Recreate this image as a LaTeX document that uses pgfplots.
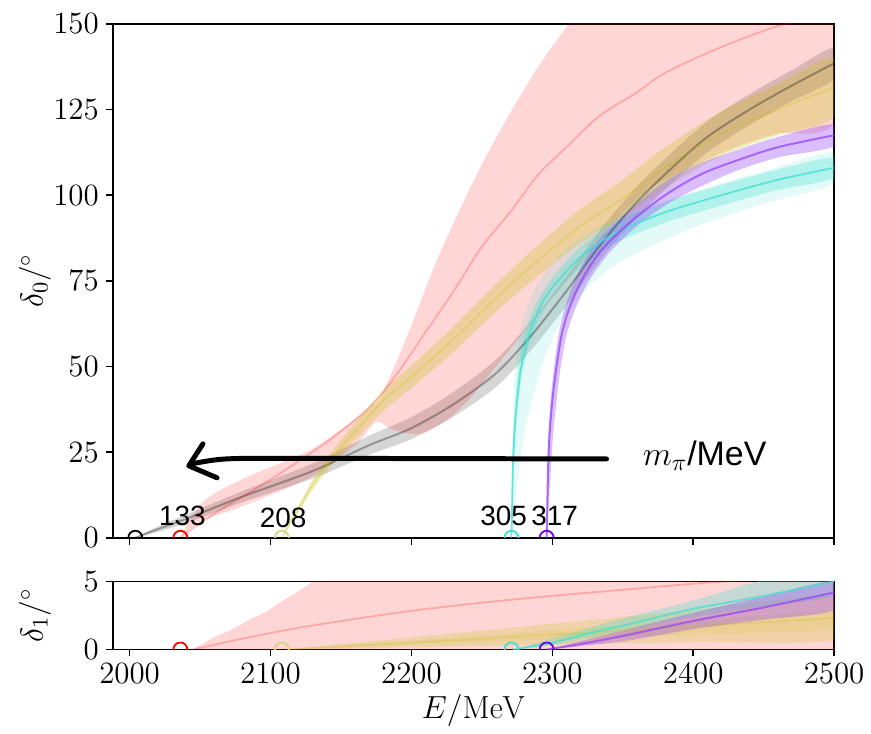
\RequirePackage{fix-cm}
\documentclass[border=0pt]{standalone}
\usepackage{fontspec}
\newfontfamily\libsans{Liberation Sans}
\usepackage{pgfplots}
\pgfplotsset{compat=1.18}

\definecolor{tq}{RGB}{64,224,208}
\definecolor{vio}{RGB}{150,70,245}
\definecolor{olivey}{RGB}{191,191,0}
\definecolor{mkyel}{RGB}{215,215,130}
\definecolor{mkvio}{RGB}{110,0,230}

\pgfplotsset{
  panel/.style={
    width=361.5pt, scale only axis,
    xmin=1988, xmax=2500,
    xtick={2000,2100,...,2500},
    tick pos=left, tick align=outside,
    major tick length=3.5pt,
    axis line style={line width=0.8pt},
    every tick/.style={black, line width=0.8pt},
    x tick label style={/pgf/number format/set thousands separator={}},
    tick label style={font=\fontsize{15.5}{18}\selectfont},
    label style={font=\fontsize{16}{19}\selectfont},
    ylabel style={at={(axis description cs:-0.108,0.5)}, anchor=center},
    clip marker paths=true,
  },
  band/.style={draw=none, fill=#1, smooth, tension=0.5},
  cl/.style={#1, smooth, tension=0.5},
  mk/.style={only marks, mark=o, mark size=3.5pt,
    mark options={line width=0.9pt, draw=#1, fill=white}},
}

\begin{document}
\begin{tikzpicture}
% ---------------- delta_0 ----------------
\begin{axis}[panel, name=top,
    height=257.5pt,
    ymin=0, ymax=150,
    ytick={0,25,...,150},
    xticklabels={},
    ylabel={$\delta_0/^\circ$},
  ]
  % gray (threshold 2004)
  \addplot[band=black, fill opacity=0.16] coordinates {
    (2004,0)(2020,3.3)(2040,6.7)(2080,13.6)(2130,21.7)(2170,29.8)(2200,35.2)(2230,42.6)
    (2260,52)(2285,63.2)(2310,76.3)(2335,90.4)(2360,102.5)(2385,112.5)(2410,121.5)
    (2440,129.5)(2470,136.5)(2500,143)
    (2500,134)(2470,127.5)(2440,120.5)(2410,112.5)(2385,103.5)(2360,93.5)(2335,81.6)
    (2310,67.7)(2285,54.8)(2260,44)(2230,35.4)(2200,28.8)(2170,24.2)(2130,17.3)
    (2080,10.4)(2040,4.3)(2020,1.7)(2004,0)};
  % pink (133)
  \addplot[band=red, fill opacity=0.16] coordinates {
    (2036,0)(2052,10.5)(2082,17.5)(2130,26)(2172,38.5)(2178,41)(2190,52)(2200,62)
    (2215,78)(2230,92)(2250,109)(2270,124)(2290,137.5)(2310,149)(2330,159)(2500,160)
    (2500,121.5)(2460,118)(2430,114)(2400,108.5)(2366,101)(2340,90)(2320,80)(2300,70)
    (2280,60)(2260,50)(2240,40)(2224,34)(2205,30.3)(2186,31.7)(2175,33.8)(2160,27)
    (2130,18)(2082,9.5)(2052,5)(2036,0)};
  % gold (208)
  \addplot[band=olivey, fill opacity=0.26] coordinates {
    (2108,0)(2112,3.5)(2116,6.7)(2122,11)(2130,17)(2145,26)(2160,33.5)(2180,43)
    (2200,50.3)(2230,61.7)(2260,74)(2290,85.5)(2320,96)(2350,104.5)(2380,114)
    (2420,124.5)(2460,132.5)(2500,140)
    (2500,123)(2460,117.5)(2420,111.5)(2380,102)(2350,93.5)(2320,86)(2290,76.5)
    (2260,66)(2230,54.3)(2200,43.7)(2180,37)(2160,28.5)(2145,22)(2130,14)(2122,9)
    (2116,5.3)(2112,2.5)(2108,0)};
  % cyan (305), outer and inner
  \addplot[band=tq, fill opacity=0.15] coordinates {
    (2271,0)(2271.3,15)(2271.8,30)(2272.8,45)(2275.5,56)(2280,65)(2288,73)(2300,80)
    (2320,87.5)(2350,94)(2400,101)(2450,107)(2500,112.5)
    (2500,103.5)(2450,97.5)(2400,90.5)(2350,81)(2325,73)(2305,62)(2294,52)(2287,42)
    (2281,32)(2277,22)(2274,12)(2272,5)(2271,0)};
  \addplot[band=tq, fill opacity=0.3] coordinates {
    (2271,0)(2271.3,10)(2271.6,20)(2272.3,30)(2273.7,40)(2276,50)(2280,59)(2287,67)
    (2295,73)(2300,76)(2320,85)(2345,92)(2380,98)(2420,103)(2460,107.5)(2500,111)
    (2500,105)(2460,101.5)(2420,97)(2380,92)(2345,86)(2320,79)(2300,70)(2292,65)
    (2284,57)(2279,49)(2276,40)(2274,30)(2272.6,20)(2271.8,10)(2271,0)};
  % purple (317)
  \addplot[band=vio, fill opacity=0.35] coordinates {
    (2296,0)(2296.2,10)(2296.5,20)(2297.2,30)(2298.8,40)(2301.3,50)(2304.8,60)
    (2310,68.5)(2318,77)(2330,85.5)(2350,94)(2375,102.5)(2400,108.5)(2430,113)
    (2460,117)(2500,120.7)
    (2500,114.3)(2460,111)(2430,107)(2400,101.5)(2380,97)(2360,91)(2340,83)(2326,75)
    (2316,66.5)(2310,59)(2306,50)(2303,40)(2300.5,30)(2299,20)(2297.5,10)(2296,0)};

  % central lines
  \addplot[cl=black, opacity=0.3, line width=1pt] coordinates {
    (2004,0)(2020,2.5)(2040,5.5)(2080,12)(2130,19.5)(2170,27)(2200,32)(2230,39)
    (2260,48)(2285,59)(2310,72)(2335,86)(2360,98)(2385,108)(2410,117)(2440,125)
    (2470,132)(2500,138.5)};
  \addplot[cl=red, opacity=0.22, line width=0.9pt] coordinates {
    (2036,0)(2060,7)(2100,17)(2140,28)(2170,38)(2190,48)(2210,60)(2230,72)(2250,85)
    (2270,95)(2290,106)(2310,114)(2333,123)(2360,130)(2380,135.7)(2415,142.4)
    (2450,148)(2470,150.5)(2500,154)};
  \addplot[cl=olivey, opacity=0.25, line width=1pt] coordinates {
    (2108,0)(2112,3)(2116,6)(2122,10)(2130,15.5)(2145,24)(2160,31)(2180,40)(2200,47)
    (2230,58)(2260,70)(2290,81)(2320,91)(2350,99)(2380,108)(2420,118)(2460,125)
    (2500,131.5)};
  \addplot[cl=tq, opacity=0.75, line width=0.9pt] coordinates {
    (2271,0)(2271.5,10)(2272,20)(2273,30)(2275,40)(2278,50)(2284,60)(2292,68)
    (2300,73)(2320,82)(2345,89)(2380,95)(2420,100)(2460,104.5)(2500,108)};
  \addplot[cl=vio, opacity=0.75, line width=1pt] coordinates {
    (2296,0)(2296.5,10)(2297,20)(2298,30)(2300,40)(2303,50)(2307,60)(2313,68)
    (2322,76)(2335,84)(2355,92)(2380,100)(2405,106)(2430,110)(2460,114)(2500,117.5)};

  % thresholds
  \addplot[mk=black] coordinates {(2004,0)};
  \addplot[mk=red] coordinates {(2036,0)};
  \addplot[mk=mkyel] coordinates {(2108,0)};
  \addplot[mk=tq] coordinates {(2271,0)};
  \addplot[mk=mkvio] coordinates {(2296,0)};

  % annotations
  \node[font=\libsans\fontsize{14}{16}\selectfont] at (axis cs:2037.5,6.4) {133};
  \node[font=\libsans\fontsize{14}{16}\selectfont] at (axis cs:2109,5.8) {208};
  \node[font=\libsans\fontsize{14}{16}\selectfont] at (axis cs:2265.5,6.4) {305};
  \node[font=\libsans\fontsize{14}{16}\selectfont] at (axis cs:2301.7,6.4) {317};
  \draw[line width=2.5pt, line cap=round, line join=round]
    (axis cs:2338.5,23) -- (axis cs:2110,23.2) .. controls (axis cs:2065,23.2) .. (axis cs:2043,21.5);
  \draw[line width=2.5pt, line cap=round, line join=round]
    (axis cs:2052,27.4) -- (axis cs:2042,21) -- (axis cs:2062,17.5);
  \node[anchor=west, inner sep=0pt, font=\fontsize{17}{20}\selectfont]
    at (axis cs:2364,24) {$m_\pi$\libsans/MeV};
\end{axis}

% ---------------- delta_1 ----------------
\begin{axis}[panel, name=bot,
    at={(top.south west)}, anchor=north west, yshift=-22pt,
    height=34pt,
    ymin=0, ymax=5,
    ytick={0,5},
    xlabel={$E/\mathrm{MeV}$},
    xlabel style={at={(axis description cs:0.5,-0.9)}, anchor=center},
    ylabel={$\delta_1/^\circ$},
  ]
  \addplot[band=red, fill opacity=0.16] coordinates {
    (2045,0)(2060,0.9)(2073,1.5)(2085,2.2)(2097,2.8)(2110,3.7)(2120,4.3)(2130,5)
    (2145,6)(2500,6)(2500,0)(2045,0)};
  \addplot[band=olivey, fill opacity=0.22] coordinates {
    (2111,0)(2150,0.4)(2200,0.9)(2300,1.9)(2400,2.9)(2500,3.9)
    (2500,0.75)(2400,0.55)(2300,0.35)(2200,0.15)(2111,0)};
  \addplot[band=olivey, fill opacity=0.12] coordinates {
    (2111,0)(2200,0.65)(2300,1.4)(2400,2.1)(2500,2.8)
    (2500,1.5)(2400,1.1)(2300,0.75)(2200,0.35)(2111,0)};
  \addplot[band=tq, fill opacity=0.3] coordinates {
    (2272,0)(2300,0.8)(2350,2.3)(2400,3.6)(2445,5)(2500,6.3)
    (2500,4.0)(2450,3.2)(2400,2.4)(2350,1.4)(2300,0.3)(2272,0)};
  \addplot[band=vio, fill opacity=0.35] coordinates {
    (2296,0)(2350,1.4)(2400,2.7)(2450,3.9)(2500,5.0)
    (2500,2.9)(2450,2.2)(2400,1.5)(2350,0.6)(2296,0)};

  \addplot[cl=red, opacity=0.22, line width=0.9pt] coordinates {
    (2045,0)(2080,0.8)(2120,1.6)(2160,2.25)(2200,2.85)(2250,3.45)(2300,3.95)
    (2350,4.4)(2400,4.85)(2420,5.0)(2500,5.5)};
  \addplot[cl=olivey, opacity=0.2, line width=0.9pt] coordinates {
    (2111,0)(2200,0.5)(2300,1.1)(2400,1.7)(2500,2.3)};
  \addplot[cl=tq, opacity=0.75, line width=0.9pt] coordinates {
    (2272,0)(2300,0.5)(2330,1.3)(2360,2.0)(2400,3.0)(2450,3.95)(2500,5.0)};
  \addplot[cl=vio, opacity=0.75, line width=1pt] coordinates {
    (2296,0)(2320,0.4)(2350,1.0)(2400,2.1)(2450,3.1)(2500,4.2)};

  \addplot[mk=red] coordinates {(2036,0)};
  \addplot[mk=mkyel] coordinates {(2108,0)};
  \addplot[mk=tq] coordinates {(2271,0)};
  \addplot[mk=mkvio] coordinates {(2296,0)};
\end{axis}
\path ([shift={(-56.5pt,12pt)}]top.north west) rectangle ([shift={(17.5pt,-37.5pt)}]bot.south east);
\end{tikzpicture}
\end{document}
